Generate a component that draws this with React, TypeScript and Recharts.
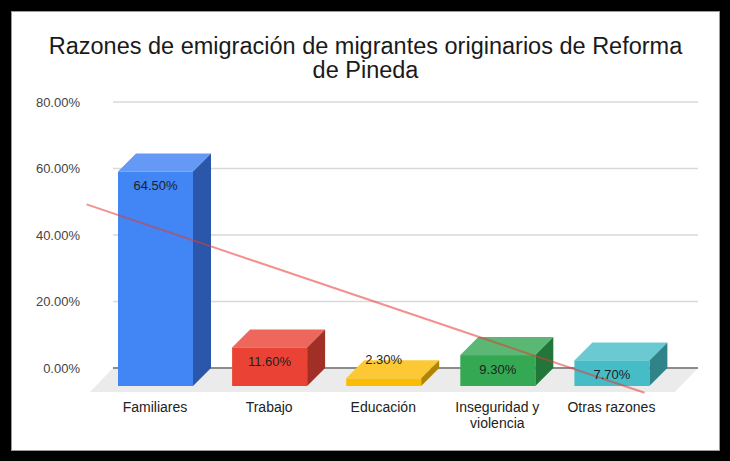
import React from 'react';
import { BarChart, Bar, XAxis, YAxis, CartesianGrid, ReferenceLine, LabelList, Text } from 'recharts';

const title = 'Razones de emigración de migrantes originarios de Reforma de Pineda';
const categories = ['Familiares', 'Trabajo', 'Educación', 'Inseguridad y violencia', 'Otras razones'];
const values = [64.5, 11.6, 2.3, 9.3, 7.7];
const yTicks = [0, 20, 40, 60, 80];
const frontColors = ['#4285F4', '#EA4335', '#FBBC04', '#34A853', '#46BDC6'];
const topColors = ['#6499f6', '#ee675c', '#fcc934', '#5bb874', '#6bcad1'];
const sideColors = ['#2a57a9', '#a22f25', '#b08504', '#22763a', '#2f8389'];
// extent of the drawn trendline, in category units
const trendExtent = [0.4, 5.29];

const data = categories.map((name, i) => ({ name, idx: i + 1, value: values[i] }));

// least-squares linear trend of the values
const xs = values.map((_, i) => i + 1);
const mx = xs.reduce((a, b) => a + b, 0) / xs.length;
const my = values.reduce((a, b) => a + b, 0) / values.length;
const slope =
  xs.reduce((s, x, i) => s + (x - mx) * (values[i] - my), 0) /
  xs.reduce((s, x) => s + (x - mx) * (x - mx), 0);
const intercept = my - slope * mx;
const trendAt = (k: number) => intercept + slope * k;

const FONT = '"Liberation Sans", Arial, Helvetica, sans-serif';
const W = 730;
const H = 461;
const MARGIN = { top: 102, right: 32, bottom: 63, left: 63 };
const YAXIS_W = 50;
const XAXIS_H = 30;
const PAD = { left: 3, right: 11.5 };
const DEPTH = 18;
const FLOOR_DX = 23;
const FLOOR_DY = 24;
const BAR_SIZE = 75;

const plotW = W - MARGIN.left - MARGIN.right - YAXIS_W;
const bandW = (plotW - PAD.left - PAD.right) / categories.length;
const shift = DEPTH / bandW;

const Box3D = (props: any) => {
  const { x, y, width, height, payload } = props;
  if (width == null || height == null) return null;
  const i = (payload?.idx ?? 1) - 1;
  const D = DEPTH;
  const fx = x - D;
  const fy = y + D;
  return (
    <g>
      <polygon
        points={`${fx},${fy} ${x},${y} ${x + width},${y} ${x + width - D},${fy}`}
        fill={topColors[i]}
      />
      <polygon
        points={`${x + width - D},${fy} ${x + width},${y} ${x + width},${y + height} ${x + width - D},${y + height + D}`}
        fill={sideColors[i]}
      />
      <rect x={fx} y={fy} width={width} height={height} fill={frontColors[i]} />
    </g>
  );
};

const renderLabel = (props: any) => {
  const vb = props.viewBox || props;
  const x = vb.x ?? props.x;
  const y = vb.y ?? props.y;
  const width = vb.width ?? props.width;
  const height = vb.height ?? props.height;
  const value = props.value;
  const cx = x - DEPTH + width / 2;
  const fy = y + DEPTH;
  const ty = height > 18 ? fy + 14 : fy - 19;
  return (
    <text
      x={cx}
      y={ty}
      textAnchor="middle"
      dominantBaseline="central"
      fontSize={13}
      fontFamily={FONT}
      fill="#1f1f1f"
    >
      {Number(value).toFixed(2)}%
    </text>
  );
};

const renderHLine = (p: any) => {
  const isBase = p.height != null && p.y != null ? Math.abs(p.y1 - (p.y + p.height)) < 0.6 : p.index === 0;
  if (isBase) {
    return (
      <g key={p.key ?? `h-${p.index}`}>
        <polygon
          points={`${p.x1},${p.y1} ${p.x2},${p.y1} ${p.x2 - FLOOR_DX},${p.y1 + FLOOR_DY} ${p.x1 - FLOOR_DX},${p.y1 + FLOOR_DY}`}
          fill="#ebebeb"
        />
        <line x1={p.x1} y1={p.y1} x2={p.x2} y2={p.y2} stroke="#8c8c8c" strokeWidth={2} />
      </g>
    );
  }
  return (
    <line key={p.key ?? `h-${p.index}`} x1={p.x1} y1={p.y1} x2={p.x2} y2={p.y2} stroke="#d9d9d9" strokeWidth={1.5} />
  );
};

const XTick = (props: any) => {
  const { x, y, payload } = props;
  return (
    <Text
      x={x - DEPTH}
      y={y + 26}
      width={105}
      textAnchor="middle"
      verticalAnchor="start"
      lineHeight={16}
      fontSize={14}
      fontFamily={FONT}
      fill="#222"
    >
      {payload.value}
    </Text>
  );
};

export default function App() {
  return (
    <div style={{ position: 'absolute', left: 0, top: 0, width: W, height: H, background: '#000', overflow: 'hidden' }}>
      <div
        style={{
          position: 'absolute',
          left: 11,
          top: 11,
          width: 709,
          height: 440,
          background: '#fff',
          boxShadow: 'inset 0 0 0 1px #9a9a9a',
        }}
      />
      <div
        style={{
          position: 'absolute',
          left: 11,
          top: 35,
          width: 709,
          boxSizing: 'border-box',
          padding: '0 32px',
          textAlign: 'center',
          fontFamily: FONT,
          fontSize: 23.5,
          lineHeight: '23.5px',
          color: '#1a1a1a',
        }}
      >
        {title}
      </div>
      <div style={{ position: 'absolute', left: 0, top: 0 }}>
        <BarChart width={W} height={H} data={data} margin={MARGIN} barSize={BAR_SIZE}>
          <CartesianGrid vertical={false} horizontal={renderHLine as any} />
          <XAxis
            dataKey="name"
            height={XAXIS_H}
            padding={PAD}
            axisLine={false}
            tickLine={false}
            interval={0}
            tick={<XTick />}
          />
          <XAxis
            xAxisId="trend"
            dataKey="idx"
            type="number"
            hide
            allowDataOverflow
            domain={[0.5 + shift, categories.length + 0.5 + shift]}
            padding={PAD}
          />
          <YAxis
            width={YAXIS_W}
            domain={[0, 80]}
            ticks={yTicks}
            axisLine={false}
            tickLine={false}
            tickMargin={27}
            tickFormatter={(v: number) => `${v.toFixed(2)}%`}
            tick={{ fontSize: 13, fill: '#444', fontFamily: FONT }}
          />
          <Bar dataKey="value" isAnimationActive={false} shape={(p: any) => <Box3D {...p} />}>
            <LabelList dataKey="value" content={renderLabel} />
          </Bar>
          <ReferenceLine
            xAxisId="trend"
            ifOverflow="visible"
            segment={[
              { x: trendExtent[0], y: trendAt(trendExtent[0]) },
              { x: trendExtent[1], y: trendAt(trendExtent[1]) },
            ]}
            stroke="#e53935"
            strokeOpacity={0.55}
            strokeWidth={2}
          />
        </BarChart>
      </div>
    </div>
  );
}
